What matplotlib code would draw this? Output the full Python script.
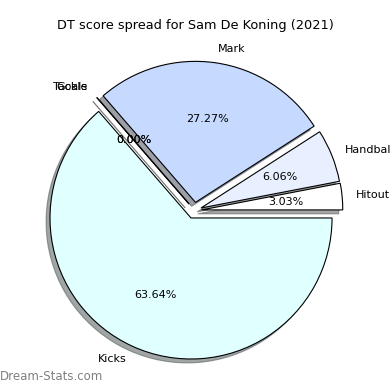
import matplotlib
matplotlib.use("Agg")
import matplotlib.pyplot as plt
import numpy as np

labels = ["Hitout", "Handball", "Mark", "Tackle", "Goals", "Kicks"]
scores = [1, 2, 9, 0, 0, 21]
colours = ["#ffffff", "#e8f0ff", "#c6d9ff", "#ffffff", "#ffffff", "#e0ffff"]

# pull-out of each wedge (radius units) and the direction it is pulled (deg)
pull = [0.095, 0.1, 0.115, 0.1, 0.1, 0]
pull_dir = [37, 45, 74, 98, 98, 0]

fig = plt.figure(figsize=(3.9, 3.9), dpi=100)
# square axes so the pie sits where the original does
ax = fig.add_axes([0.0378, -0.0109, 0.904, 0.904])

wedges, texts, autotexts = ax.pie(
    scores, labels=labels, colors=colours,
    autopct="%1.2f%%", shadow=True, startangle=0,
    wedgeprops={"edgecolor": "black", "linewidth": 0.8},
    textprops={"fontsize": 8})

# move the pulled-out wedges and their texts
for w, t, at, p, d in zip(wedges, texts, autotexts, pull, pull_dir):
    dx = p * np.cos(np.radians(d))
    dy = p * np.sin(np.radians(d))
    w.set_center((dx, dy))
    x, y = t.get_position()
    t.set_position((x + dx, y + dy))
    x, y = at.get_position()
    at.set_position((x + dx, y + dy))

ax.set_xlim(-1.25, 1.25)
ax.set_ylim(-1.25, 1.25)
ax.set_aspect("equal")

fig.text(0.5, 1 - 25 / 390, "DT score spread for Sam De Koning (2021)",
         fontsize=9.3, ha="center", va="center")
fig.text(0.0, 1 - 377 / 390, "Dream-Stats.com", fontsize=8.5,
         color="#808080", va="center")

fig.savefig("out.png")
